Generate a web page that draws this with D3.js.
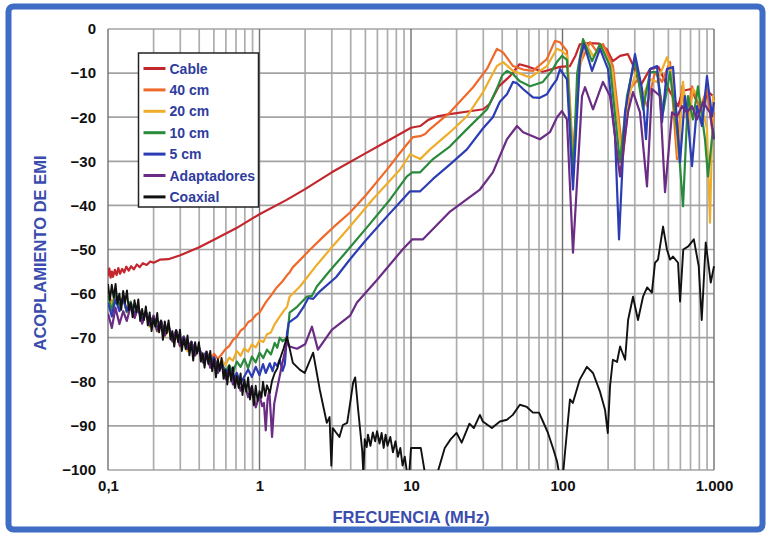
<!DOCTYPE html>
<html>
<head>
<meta charset="utf-8">
<script src="https://cdn.jsdelivr.net/npm/d3@7"></script>
<style>
  body { margin: 0; background: #fff; }
  svg { display: block; }
  text { font-family: "Liberation Sans", Arial, sans-serif; font-weight: bold; }
</style>
</head>
<body>
<div id="chart"></div>
<script>
// frequencies shared by the noisy low-frequency bundle (MHz)
const lowFreq = [0.100, 0.106, 0.112, 0.119, 0.126, 0.133, 0.141, 0.150, 0.158, 0.168,
  0.178, 0.188, 0.200, 0.211, 0.224, 0.237, 0.251, 0.266, 0.282, 0.299,
  0.316, 0.335, 0.355, 0.376, 0.398, 0.422, 0.447, 0.473, 0.501, 0.531,
  0.562, 0.596, 0.631, 0.668, 0.708, 0.750, 0.794, 0.841, 0.891, 0.944, 1.000];

// denser frequencies for the coaxial trace, which sits on top of the bundle
const coaxFreq = [0.1000, 0.1029, 0.1059, 0.1090, 0.1122, 0.1155, 0.1189, 0.1223, 0.1259, 0.1296,
  0.1334, 0.1372, 0.1413, 0.1454, 0.1496, 0.1540, 0.1585, 0.1631, 0.1679, 0.1728,
  0.1778, 0.1830, 0.1884, 0.1939, 0.1995, 0.2054, 0.2113, 0.2175, 0.2239, 0.2304,
  0.2371, 0.2441, 0.2512, 0.2585, 0.2661, 0.2738, 0.2818, 0.2901, 0.2985, 0.3073,
  0.3162, 0.3255, 0.3350, 0.3447, 0.3548, 0.3652, 0.3758, 0.3868, 0.3981, 0.4097,
  0.4217, 0.4340, 0.4467, 0.4597, 0.4732, 0.4870, 0.5012, 0.5158, 0.5309, 0.5464,
  0.5623, 0.5788, 0.5957, 0.6131, 0.6310, 0.6494, 0.6683, 0.6879, 0.7079, 0.7286,
  0.7499, 0.7718, 0.7943, 0.8175, 0.8414, 0.8660, 0.8913, 0.9173, 0.9441, 0.9716, 1.0000];

const seriesNames = ['Cable', '40 cm', '20 cm', '10 cm', '5 cm', 'Adaptadores', 'Coaxial'];
const seriesColors = ['#c4262e', '#ef6a2a', '#eeae2c', '#2a8a3c', '#2b3cb4', '#6b2c84', '#111111'];

const xTickValues = [0.1, 1, 10, 100, 1000];
const xTickLabels = ['0,1', '1', '10', '100', '1.000'];
const yTickValues = [0, -10, -20, -30, -40, -50, -60, -70, -80, -90, -100];

const cable = [[0.1,-56.0],[0.102,-54.3],[0.104,-56.4],[0.106,-55.0],[0.108,-56.2],[0.111,-54.6],[0.114,-55.8],[0.117,-54.2],[0.12,-55.5],[0.124,-54.4],[0.128,-55.2],[0.132,-53.9],[0.137,-54.8],[0.142,-53.8],[0.148,-54.5],[0.155,-53.4],[0.162,-54.0],[0.17,-53.1],[0.18,-53.5],[0.19,-52.7],[0.2,-53.0],[0.22,-52.3],[0.25,-52.2],[0.3,-51.3],[0.4,-49.5],[0.5,-47.8],[0.7,-45.2],[1.0,-42.0],[1.5,-38.8],[2.0,-36.3],[3.0,-32.5],[5.0,-28.2],[7.0,-25.4],[10.0,-22.4],[11.5,-22.0],[13.0,-20.6],[15.0,-19.8],[18.0,-19.3],[25.0,-18.6],[30.0,-18.2],[33.0,-17.0],[38.0,-13.0],[45.0,-10.7],[52.0,-8.0],[60.0,-8.6],[74.0,-9.7],[96.3,-8.6],[112,-8.4],[122,-6.0],[130,-3.5],[150,-3.2],[175,-3.3],[195,-4.5],[215,-7.3],[240,-6.1],[270,-5.7],[300,-9.0],[325,-13.0],[378,-9.1],[430,-8.6],[513,-14.3],[579,-17.5],[620,-14.0],[708,-13.6],[760,-16.0],[846,-18.9],[900,-14.0],[985,-15.2],[1000,-16.0]];

const cm40Low = [-59.2,-62.4,-60.0,-63.0,-61.2,-64.1,-62.0,-65.3,-63.0,-66.4,-64.4,-67.2,-65.6,-68.5,-66.8,-69.6,-67.8,-70.8,-69.1,-71.9,-70.2,-72.8,-71.0,-73.8,-72.4,-74.6,-73.1,-75.0,-73.6,-74.8,-73.8];
const cm40High = [[0.596,-72.6],[0.631,-71.9],[0.668,-70.5],[0.708,-69.8],[0.75,-68.4],[0.794,-67.8],[0.841,-66.5],[0.891,-66.0],[0.944,-64.9],[1.0,-64.3],[1.1,-62.0],[1.2,-60.3],[1.3,-58.6],[1.42,-57.2],[1.52,-55.8],[1.58,-55.2],[1.66,-54.0],[1.8,-52.8],[2.16,-50.0],[2.6,-47.3],[3.2,-44.4],[3.96,-41.6],[5.0,-37.8],[6.9,-32.0],[8.5,-28.0],[10.3,-24.5],[11.5,-24.3],[12.4,-23.8],[13.35,-22.7],[18.1,-18.9],[25.7,-13.2],[31.8,-9.0],[36.9,-4.5],[40.5,-5.3],[47.1,-8.4],[55,-9.2],[63.8,-9.5],[78.9,-6.8],[89.1,-2.7],[96.3,-3.0],[107,-5.0],[117.3,-28.9],[130,-8.0],[151.9,-3.0],[169,-5.2],[185,-3.4],[215.4,-8.4],[250.8,-28.9],[279,-13.6],[315,-11.4],[361,-17.5],[408,-9.8],[453.8,-12.0],[512.6,-7.5],[570,-29.5],[615,-13.0],[663.6,-20.5],[716,-13.0],[808,-18.2],[899,-13.6],[970,-22.7],[1000,-18.9]];

const cm20Low = [-59.8,-62.9,-60.5,-63.1,-60.7,-63.8,-61.9,-65.0,-63.2,-66.1,-64.3,-67.5,-65.5,-68.6,-66.7,-69.7,-67.9,-70.9,-69.0,-72.0,-70.2,-73.1,-71.3,-74.1,-72.6,-75.3,-73.7,-76.3,-74.8,-76.9,-75.0,-76.2,-74.5];
const cm20High = [[0.668,-75.2],[0.708,-73.0],[0.75,-74.1],[0.794,-72.4],[0.841,-73.2],[0.891,-71.5],[0.944,-72.2],[1.0,-70.6],[1.06,-71.0],[1.12,-69.2],[1.19,-68.8],[1.26,-66.9],[1.36,-65.2],[1.44,-64.0],[1.52,-63.0],[1.58,-60.7],[1.85,-58.4],[2.39,-53.5],[3.0,-49.5],[3.79,-45.5],[5.6,-38.6],[8.5,-31.8],[9.85,-28.4],[11.5,-29.5],[13.35,-27.3],[18.1,-23.4],[23.4,-19.8],[29.9,-14.3],[36.9,-8.4],[40.5,-7.5],[47.1,-9.5],[61,-11.0],[78.9,-8.4],[91.8,-4.5],[99.2,-5.0],[107,-6.0],[117.3,-30.2],[130,-9.0],[140.8,-3.0],[159,-6.1],[182.3,-4.1],[212.2,-9.1],[247,-28.9],[270.6,-15.9],[310,-9.1],[340,-15.2],[378,-11.4],[420.6,-12.0],[489.6,-6.4],[536.4,-11.4],[578.7,-28.9],[624.5,-12.0],[673.8,-22.7],[726.7,-13.6],[808,-15.9],[899,-22.7],[940.9,-43.9],[985,-15.2],[1000,-18.0]];

const cm10Low = [-60.5,-63.8,-59.9,-62.7,-61.0,-64.2,-61.8,-64.9,-62.9,-66.0,-64.1,-67.2,-65.0,-68.3,-66.1,-69.4,-67.4,-70.4,-68.5,-71.6,-69.7,-72.6,-70.9,-73.9,-72.1,-74.9,-73.3,-76.0,-74.4,-77.1,-75.6,-77.8,-76.2,-77.9,-75.4];
const cm10High = [[0.75,-76.6],[0.794,-74.8],[0.841,-76.9],[0.891,-74.3],[0.944,-75.6],[1.0,-73.4],[1.06,-74.6],[1.12,-72.7],[1.19,-73.8],[1.26,-71.2],[1.31,-72.3],[1.36,-70.0],[1.42,-70.8],[1.48,-70.3],[1.52,-70.6],[1.58,-64.3],[1.77,-63.0],[2.05,-60.7],[2.22,-60.5],[2.39,-58.4],[2.93,-54.7],[3.79,-50.3],[5.2,-44.7],[7.3,-38.6],[9.4,-33.4],[10.2,-32.5],[11.5,-32.5],[13.97,-29.5],[18.1,-26.6],[23.4,-22.7],[31.8,-18.2],[36.9,-13.5],[40,-10.5],[43,-9.5],[47.1,-10.2],[52,-11.8],[61,-13.0],[74.2,-12.0],[85,-9.5],[91.8,-7.5],[99.2,-6.1],[107,-7.0],[117.3,-33.4],[125,-10.0],[136.6,-2.3],[156.6,-7.3],[176.8,-3.4],[205.8,-8.4],[239.6,-30.2],[266.6,-15.2],[301,-6.8],[340,-18.2],[378,-9.8],[420.6,-9.8],[460.8,-18.9],[512.6,-9.8],[578.7,-25.0],[624.5,-40.2],[673.8,-15.2],[726.7,-20.5],[784,-13.0],[872,-25.0],[912.6,-33.4],[985,-22.7],[1000,-25.0]];

const cm5Low = [-62.0,-65.2,-61.3,-64.0,-60.8,-63.9,-62.2,-65.0,-63.4,-66.1,-64.0,-67.0,-65.3,-67.9,-66.4,-69.2,-67.5,-70.3,-68.6,-71.4,-69.8,-72.5,-70.9,-73.6,-72.0,-74.8,-73.2,-76.0,-74.4,-77.2,-75.6,-78.4,-76.8,-79.6,-78.0,-80.4,-78.8];
const cm5High = [[0.841,-77.2],[0.891,-78.9],[0.944,-76.6],[1.0,-78.5],[1.055,-76.0],[1.1,-78.0],[1.17,-75.8],[1.22,-77.6],[1.26,-75.7],[1.31,-76.4],[1.36,-75.0],[1.42,-77.5],[1.47,-76.0],[1.52,-69.0],[1.56,-66.6],[1.77,-65.2],[1.94,-63.2],[2.1,-61.0],[2.26,-61.2],[2.45,-59.8],[2.6,-59.0],[3.2,-56.3],[3.96,-52.2],[5.0,-48.0],[6.9,-42.6],[8.46,-39.3],[9.85,-36.8],[11.5,-36.8],[13.97,-34.0],[18.1,-30.7],[23.4,-27.3],[29.9,-22.5],[34.7,-20.0],[38.6,-16.5],[43,-14.8],[47.1,-12.0],[50.1,-12.3],[54.9,-13.6],[63.8,-15.5],[70.9,-15.6],[78.9,-14.8],[85,-13.0],[91.8,-11.4],[96.3,-9.1],[107,-11.4],[117.3,-36.4],[130.5,-6.8],[138.7,-3.4],[156.6,-9.5],[176.8,-4.5],[199.7,-9.1],[222.2,-24.3],[236.1,-47.7],[258.5,-18.9],[301,-5.7],[334.9,-13.6],[355.8,-25.0],[378,-9.1],[420.6,-8.4],[453.8,-21.1],[489.6,-9.1],[536.4,-8.6],[596.6,-30.2],[643.8,-15.2],[673.8,-21.0],[715.8,-31.1],[772.4,-17.5],[833.3,-22.0],[898.8,-10.7],[970,-19.8],[1000,-16.6]];

const adaptLow = [-64.5,-67.8,-63.2,-66.9,-64.0,-66.2,-62.8,-65.5,-63.1,-66.8,-64.2,-67.1,-65.0,-68.4,-66.2,-69.5,-67.0,-70.8,-68.3,-71.9,-69.9,-72.5,-71.0,-74.0,-72.4,-75.6,-73.5,-76.8,-74.9,-78.0,-76.1,-79.3,-77.4,-80.6,-78.8,-82.0,-80.2,-83.5,-81.0,-85.8,-83.0];
const adaptHigh = [[1.04,-85.5],[1.07,-84.8],[1.1,-91.0],[1.13,-84.0],[1.16,-82.0],[1.19,-88.0],[1.21,-92.5],[1.25,-85.0],[1.3,-82.0],[1.4,-76.5],[1.52,-71.0],[1.58,-72.0],[1.77,-72.5],[2.0,-71.5],[2.22,-67.5],[2.43,-72.7],[3.0,-68.2],[3.96,-65.0],[4.4,-62.0],[6.0,-56.8],[8.8,-50.0],[10.2,-47.7],[12.0,-47.7],[18.1,-41.4],[28.5,-36.4],[34.7,-32.5],[43,-25.0],[50.1,-22.0],[55,-23.4],[70.9,-25.0],[82.6,-23.4],[92,-20.0],[99.2,-18.6],[107,-20.5],[117.3,-50.7],[134.5,-15.2],[140.8,-13.2],[159,-18.2],[185,-12.0],[205.8,-15.2],[239.6,-33.4],[270.6,-18.9],[292,-14.3],[324.8,-18.9],[361.2,-35.7],[389.8,-13.6],[440.2,-15.2],[475,-37.0],[528.4,-18.9],[570,-19.8],[615,-17.5],[663.6,-18.9],[715.8,-17.5],[772.4,-20.5],[846,-16.6],[940.9,-18.9],[1000,-25.0]];

const coaxLow = [-57.8,-61.5,-58.0,-60.9,-57.8,-62.3,-60.0,-63.7,-59.4,-62.1,
  -59.3,-63.8,-62.1,-65.4,-61.5,-64.2,-61.3,-66.2,-63.5,-66.0,
  -62.9,-67.2,-64.3,-68.5,-65.6,-67.5,-64.4,-68.8,-66.2,-70.5,
  -66.3,-69.0,-66.1,-70.4,-68.5,-72.0,-68.3,-71.0,-68.2,-73.0,
  -70.1,-72.6,-69.5,-74.0,-71.1,-75.2,-71.0,-73.6,-71.0,-75.4,
  -73.5,-76.8,-73.3,-76.0,-73.0,-77.6,-74.9,-79.0,-74.9,-77.5,
  -74.6,-79.3,-77.2,-80.6,-76.4,-79.8,-76.7,-81.4,-78.7,-81.4,
  -78.1,-83.0,-79.5,-82.2,-79.0,-84.0,-81.0,-85.3,-80.9,-84.3,-82.1];
const coaxHigh = [[1.03,-83.6],[1.055,-80.0],[1.09,-83.2],[1.12,-80.8],[1.17,-82.5],[1.21,-79.8],[1.26,-78.0],[1.31,-77.0],[1.36,-75.0],[1.44,-72.5],[1.52,-69.8],[1.66,-75.7],[1.85,-77.3],[1.99,-78.0],[2.16,-75.0],[2.26,-73.4],[2.5,-81.8],[2.78,-89.3],[2.9,-88.0],[2.98,-99.0],[3.05,-90.5],[3.2,-91.5],[3.37,-92.5],[3.55,-89.8],[3.79,-89.3],[4.0,-84.0],[4.15,-80.2],[4.28,-79.0],[4.48,-86.4],[4.76,-95.5],[4.85,-101.0],[4.95,-93.0],[5.1,-94.8],[5.2,-92.0],[5.4,-94.5],[5.6,-91.5],[5.8,-93.5],[5.97,-91.2],[6.2,-94.0],[6.4,-91.6],[6.6,-95.0],[6.8,-92.0],[7.0,-94.5],[7.3,-92.5],[7.6,-96.0],[7.9,-93.5],[8.2,-97.0],[8.5,-95.0],[8.8,-99.0],[9.1,-97.0],[9.4,-100.5],[9.7,-101.5],[10.0,-95.0],[11.6,-95.0],[12.4,-101.0],[13.0,-104.0],[14.5,-104.0],[15.0,-100.5],[16.7,-95.0],[18.3,-93.0],[20.0,-91.6],[21.6,-93.8],[24.3,-89.5],[26.0,-90.5],[28.5,-87.5],[29.8,-89.0],[34.2,-90.5],[38.6,-89.0],[43.0,-88.6],[47.0,-87.5],[52.3,-85.2],[58.2,-85.7],[63.8,-87.0],[70.0,-87.0],[74.3,-89.0],[80.2,-91.6],[86.5,-95.0],[92.0,-98.0],[96.3,-102.0],[99.0,-104.0],[103.9,-96.0],[112,-84.0],[117,-84.8],[130,-79.5],[145,-76.6],[159,-78.0],[177,-82.3],[191,-86.4],[199,-91.6],[206,-81.0],[215,-75.0],[229,-75.5],[240,-72.0],[259,-75.0],[271,-66.0],[292,-60.7],[315,-66.0],[340,-60.7],[362,-58.6],[389,-59.8],[408,-53.0],[427,-52.3],[461,-44.8],[489,-50.0],[513,-52.3],[536,-51.6],[579,-53.0],[597,-61.8],[627,-50.0],[676,-49.3],[736,-47.7],[793,-53.8],[830,-66.0],[882,-48.4],[952,-57.5],[1000,-53.8]];

// join a low-frequency part with each series' own tail
const join = (freq, low, high) => low.map((v, i) => [freq[i], v]).concat(high);
const series = [
  cable,
  join(lowFreq, cm40Low, cm40High),
  join(lowFreq, cm20Low, cm20High),
  join(lowFreq, cm10Low, cm10High),
  join(lowFreq, cm5Low, cm5High),
  join(lowFreq, adaptLow, adaptHigh),
  join(coaxFreq, coaxLow, coaxHigh),
];

const width = 769;
const height = 534;
const plot = { left: 108, right: 714, top: 29, bottom: 470 };

const svg = d3.select('#chart')
  .append('svg')
  .attr('width', width)
  .attr('height', height);

// outer blue frame
svg.append('rect')
  .attr('x', 8.5).attr('y', 6.5)
  .attr('width', 754).attr('height', 523)
  .attr('rx', 5)
  .attr('fill', '#fff')
  .attr('stroke', '#3f6cc4')
  .attr('stroke-width', 6);

const x = d3.scaleLog().domain([0.1, 1000]).range([plot.left, plot.right]);
const y = d3.scaleLinear().domain([-100, 0]).range([plot.bottom, plot.top]);

// grid
const grid = svg.append('g');
const minor = x.ticks().filter(f => !xTickValues.includes(f));
grid.selectAll('.vminor')
  .data(minor)
  .enter()
  .append('line')
  .attr('x1', d => x(d)).attr('x2', d => x(d))
  .attr('y1', plot.top).attr('y2', plot.bottom)
  .attr('stroke', '#adadad')
  .attr('stroke-width', 1.7);
grid.selectAll('.h')
  .data(yTickValues)
  .enter()
  .append('line')
  .attr('x1', plot.left).attr('x2', plot.right)
  .attr('y1', d => y(d)).attr('y2', d => y(d))
  .attr('stroke', '#a3a3a3')
  .attr('stroke-width', 1.7);
grid.selectAll('.vmajor')
  .data(xTickValues)
  .enter()
  .append('line')
  .attr('x1', d => x(d)).attr('x2', d => x(d))
  .attr('y1', plot.top).attr('y2', plot.bottom)
  .attr('stroke', '#707070')
  .attr('stroke-width', 1.4);

// axes
const xAxis = svg.append('g')
  .attr('transform', `translate(0,${plot.bottom})`)
  .call(d3.axisBottom(x)
    .tickValues(xTickValues)
    .tickFormat((d, i) => xTickLabels[i])
    .tickSize(0)
    .tickPadding(10));
xAxis.select('.domain').remove();
xAxis.selectAll('text')
  .attr('font-size', 15)
  .attr('font-family', '"Liberation Sans", Arial, sans-serif')
  .attr('font-weight', 'bold')
  .attr('fill', '#111');

const yAxis = svg.append('g')
  .attr('transform', `translate(${plot.left},0)`)
  .call(d3.axisLeft(y)
    .tickValues(yTickValues)
    .tickSize(0)
    .tickPadding(12));
yAxis.select('.domain').remove();
yAxis.selectAll('text')
  .attr('font-size', 15)
  .attr('font-family', '"Liberation Sans", Arial, sans-serif')
  .attr('font-weight', 'bold')
  .attr('fill', '#111');

// lines
svg.append('clipPath')
  .attr('id', 'clip')
  .append('rect')
  .attr('x', plot.left).attr('y', plot.top - 2)
  .attr('width', plot.right - plot.left + 2)
  .attr('height', plot.bottom - plot.top + 2);

const line = d3.line()
  .x(d => x(d[0]))
  .y(d => y(d[1]));

svg.append('g')
  .attr('clip-path', 'url(#clip)')
  .selectAll('path')
  .data(series)
  .enter()
  .append('path')
  .attr('d', line)
  .attr('fill', 'none')
  .attr('stroke', (d, i) => seriesColors[i])
  .attr('stroke-width', (d, i) => (i === 6 ? 1.9 : 2.2))
  .attr('stroke-linejoin', 'round');

// legend
const legend = svg.append('g').attr('transform', 'translate(138.5,53)');
legend.append('rect')
  .attr('width', 120).attr('height', 154)
  .attr('fill', '#fff')
  .attr('stroke', '#222')
  .attr('stroke-width', 1.5);
const item = legend.selectAll('.item')
  .data(seriesNames)
  .enter()
  .append('g')
  .attr('transform', (d, i) => `translate(0,${15.5 + i * 21.4})`);
item.append('line')
  .attr('x1', 5).attr('x2', 27)
  .attr('stroke', (d, i) => seriesColors[i])
  .attr('stroke-width', 3);
item.append('text')
  .attr('x', 31)
  .attr('dy', '0.36em')
  .attr('font-size', 14)
  .attr('fill', '#2f3c9e')
  .text(d => d);

// axis titles
svg.append('text')
  .attr('x', (plot.left + plot.right) / 2)
  .attr('y', 523)
  .attr('text-anchor', 'middle')
  .attr('font-size', 16.5)
  .attr('fill', '#3a4cad')
  .text('FRECUENCIA (MHz)');

svg.append('text')
  .attr('transform', 'translate(46,253) rotate(-90)')
  .attr('text-anchor', 'middle')
  .attr('font-size', 16.5)
  .attr('fill', '#3a4cad')
  .text('ACOPLAMIENTO DE EMI');
</script>
</body>
</html>
